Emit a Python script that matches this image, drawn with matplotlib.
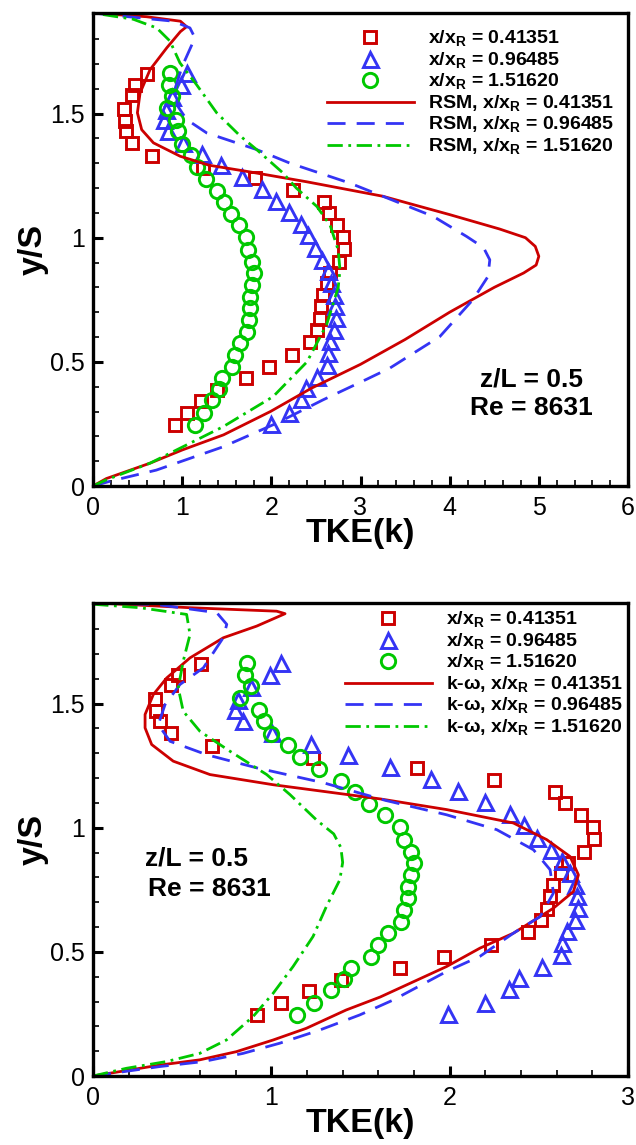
import matplotlib
matplotlib.use("Agg")
import matplotlib.pyplot as plt
import numpy as np

plt.rcParams['font.family'] = ['Liberation Sans', 'DejaVu Sans']
plt.rcParams['mathtext.fontset'] = 'custom'
plt.rcParams['mathtext.rm'] = 'Liberation Sans'
plt.rcParams['mathtext.bf'] = 'Liberation Sans:bold'

# ---------------- experimental data (same in both panels) ----------------
sq_y = [1.661, 1.617, 1.573, 1.519, 1.472, 1.429, 1.382, 1.328, 1.281, 1.241, 1.194,
        1.142, 1.100, 1.052, 1.003, 0.956, 0.904, 0.858, 0.817, 0.770, 0.723, 0.673,
        0.629, 0.578, 0.528, 0.481, 0.434, 0.387, 0.343, 0.293, 0.246]
sq_k = [0.607, 0.475, 0.438, 0.345, 0.356, 0.375, 0.438, 0.666, 1.236, 1.816, 2.247,
        2.588, 2.645, 2.737, 2.805, 2.812, 2.756, 2.663, 2.625, 2.577, 2.562, 2.543,
        2.513, 2.438, 2.232, 1.970, 1.719, 1.389, 1.209, 1.052, 0.921]

tri_y = [1.664, 1.617, 1.565, 1.516, 1.474, 1.430, 1.382, 1.338, 1.291, 1.244, 1.197,
         1.147, 1.103, 1.056, 1.009, 0.960, 0.912, 0.864, 0.817, 0.770, 0.723, 0.676,
         0.629, 0.582, 0.536, 0.488, 0.438, 0.394, 0.349, 0.296, 0.250]
tri_k = [1.052, 0.990, 0.888, 0.815, 0.795, 0.840, 1.004, 1.224, 1.430, 1.668, 1.897,
         2.048, 2.197, 2.337, 2.416, 2.491, 2.570, 2.632, 2.674, 2.700, 2.715, 2.720,
         2.700, 2.657, 2.631, 2.626, 2.515, 2.390, 2.332, 2.197, 1.991]

cir_y = [1.664, 1.617, 1.569, 1.522, 1.476, 1.429, 1.377, 1.332, 1.285, 1.237, 1.190,
         1.143, 1.097, 1.052, 1.004, 0.952, 0.904, 0.858, 0.810, 0.763, 0.716, 0.669,
         0.622, 0.575, 0.528, 0.481, 0.434, 0.390, 0.347, 0.293, 0.246]
cir_k = [0.864, 0.855, 0.887, 0.827, 0.930, 0.957, 1.000, 1.095, 1.161, 1.270, 1.390,
         1.470, 1.550, 1.640, 1.720, 1.742, 1.782, 1.800, 1.782, 1.764, 1.764, 1.745,
         1.727, 1.652, 1.596, 1.557, 1.445, 1.408, 1.333, 1.240, 1.146]

# ---------------- RSM (top panel) ----------------
rsm1_k = [0.0, 0.15, 0.64, 1.0, 1.464, 1.99, 2.45, 3.0, 3.5, 4.0, 4.5, 4.83, 4.97, 5.0,
          4.96, 4.85, 4.56, 4.0, 3.25, 2.4, 1.76, 1.3, 0.978, 0.678, 0.546, 0.498, 0.528,
          0.64, 0.828, 0.98, 1.05, 0.98, 0.6, 0.2, 0.0]
rsm1_y = [0.0, 0.03, 0.092, 0.145, 0.206, 0.30, 0.394, 0.49, 0.59, 0.70, 0.80, 0.858, 0.89,
          0.925, 0.965, 1.0, 1.035, 1.093, 1.167, 1.225, 1.265, 1.292, 1.328, 1.382, 1.435,
          1.503, 1.583, 1.677, 1.765, 1.83, 1.85, 1.872, 1.89, 1.90, 1.905]

rsm2_k = [0.0, 0.2, 0.71, 1.46, 2.06, 2.58, 3.07, 3.33, 3.89, 4.26, 4.43, 4.45, 4.38, 4.19,
          3.815, 3.25, 2.88, 2.21, 1.835, 1.275, 1.05, 0.95, 0.92, 1.0, 1.1, 1.143, 1.087,
          0.9, 0.34, 0.0]
rsm2_y = [0.0, 0.02, 0.064, 0.158, 0.253, 0.347, 0.43, 0.475, 0.602, 0.75, 0.844, 0.911,
          0.96, 1.005, 1.086, 1.167, 1.22, 1.30, 1.355, 1.422, 1.476, 1.53, 1.60, 1.69,
          1.77, 1.805, 1.845, 1.872, 1.892, 1.905]

rsm3_k = [0.0, 0.15, 0.64, 1.46, 2.02, 2.40, 2.62, 2.75, 2.77, 2.75, 2.66, 2.51, 2.28, 2.13,
          1.835, 1.65, 1.387, 1.16, 0.975, 0.863, 0.714, 0.45, 0.0]
rsm3_y = [0.0, 0.025, 0.092, 0.239, 0.36, 0.50, 0.65, 0.80, 0.87, 0.95, 1.05, 1.126, 1.2,
          1.261, 1.355, 1.41, 1.503, 1.617, 1.704, 1.792, 1.845, 1.88, 1.905]

# ---------------- k-omega (bottom panel) ----------------
kw1_k = [0.0, 0.374, 0.598, 0.804, 1.01, 1.196, 1.42, 1.61, 1.983, 2.17, 2.357, 2.582,
         2.694, 2.722, 2.675, 2.544, 2.357, 1.983, 1.61, 1.011, 0.656, 0.45, 0.329, 0.292,
         0.292, 0.338, 0.413, 0.544, 0.731, 0.918, 1.077, 1.03, 0.544, 0.0]
kw1_y = [0.0, 0.044, 0.065, 0.098, 0.145, 0.192, 0.266, 0.318, 0.441, 0.515, 0.575, 0.676,
         0.743, 0.81, 0.884, 0.952, 1.019, 1.073, 1.116, 1.173, 1.214, 1.268, 1.335, 1.402,
         1.456, 1.536, 1.603, 1.684, 1.765, 1.812, 1.862, 1.872, 1.886, 1.906]

kw2_k = [0.0, 0.374, 0.617, 0.841, 1.047, 1.271, 1.496, 1.683, 1.983, 2.17, 2.357, 2.507,
         2.582, 2.563, 2.47, 2.264, 1.983, 1.64, 1.292, 0.918, 0.637, 0.432, 0.366, 0.404,
         0.488, 0.619, 0.73, 0.75, 0.694, 0.357, 0.0]
kw2_y = [0.0, 0.038, 0.058, 0.091, 0.132, 0.185, 0.246, 0.306, 0.421, 0.482, 0.575, 0.642,
         0.737, 0.831, 0.911, 0.992, 1.052, 1.11, 1.181, 1.241, 1.294, 1.348, 1.415, 1.496,
         1.577, 1.644, 1.765, 1.819, 1.866, 1.899, 1.906]

kw3_k = [0.0, 0.187, 0.411, 0.598, 0.748, 0.897, 1.01, 1.122, 1.234, 1.309, 1.384, 1.40,
         1.39, 1.35, 1.255, 1.105, 0.974, 0.768, 0.60, 0.506, 0.478, 0.506, 0.544, 0.525,
         0.264, 0.0]
kw3_y = [0.0, 0.031, 0.058, 0.091, 0.145, 0.239, 0.333, 0.441, 0.562, 0.683, 0.79, 0.86,
         0.92, 0.975, 1.03, 1.133, 1.214, 1.308, 1.388, 1.469, 1.563, 1.671, 1.778, 1.859,
         1.886, 1.90]

exp_labels = [r'x/x$_{\mathbf{R}}$ = 0.41351', r'x/x$_{\mathbf{R}}$ = 0.96485',
              r'x/x$_{\mathbf{R}}$ = 1.51620']
rsm_labels = [r'RSM, x/x$_{\mathbf{R}}$ = 0.41351', r'RSM, x/x$_{\mathbf{R}}$ = 0.96485',
              r'RSM, x/x$_{\mathbf{R}}$ = 1.51620']
kw_labels = [r'k-ω, x/x$_{\mathbf{R}}$ = 0.41351', r'k-ω, x/x$_{\mathbf{R}}$ = 0.96485',
             r'k-ω, x/x$_{\mathbf{R}}$ = 1.51620']
annot = ['z/L = 0.5', 'Re = 8631']

RED = '#CC0000'
BLUE = '#3434F4'
GREEN = '#00C800'

fig = plt.figure(figsize=(6.36, 11.45), dpi=100)
ax1 = fig.add_axes([93/636, 1-486/1145, 535/636, 473/1145])
ax2 = fig.add_axes([93/636, 1-1076/1145, 535/636, 473/1145])

mkw = dict(linestyle='none', markerfacecolor='none', markeredgewidth=2.1)
lw = 2.0
dash = (0, (6.5, 4))
dashdot = (0, (5.5, 2, 1, 2))


def draw(ax, curves, labels, xmax, xminor):
    h = []
    h += ax.plot(sq_k, sq_y, marker='s', ms=9.3, markeredgecolor=RED, label=exp_labels[0], **mkw)
    h += ax.plot(tri_k, tri_y, marker='^', ms=10.8, markeredgecolor=BLUE, label=exp_labels[1], **mkw)
    h += ax.plot(cir_k, cir_y, marker='o', ms=10.3, markeredgecolor=GREEN, label=exp_labels[2], **mkw)
    (k1, y1), (k2, y2), (k3, y3) = curves
    h += ax.plot(k1, y1, color=RED, lw=lw, linestyle='-', label=labels[0])
    h += ax.plot(k2, y2, color=BLUE, lw=lw, linestyle=dash, label=labels[1])
    h += ax.plot(k3, y3, color=GREEN, lw=lw, linestyle=dashdot, label=labels[2])
    ax.set_xlim(0, xmax)
    ax.set_ylim(0, 1.905)
    ax.set_xticks(np.arange(0, xmax + 0.01, 1))
    ax.set_xticks(np.arange(0, xmax + 0.01, xminor), minor=True)
    ax.set_yticks([0, 0.5, 1, 1.5])
    ax.set_yticklabels(['0', '0.5', '1', '1.5'])
    ax.set_yticks(np.arange(0, 1.9, 0.1), minor=True)
    ax.tick_params(which='major', direction='in', length=7, width=2.2, labelsize=18, pad=6)
    ax.tick_params(which='minor', direction='in', length=4, width=1.2)
    ax.tick_params(axis='x', which='major', pad=7)
    for s in ax.spines.values():
        s.set_linewidth(2.4)
    ax.set_xlabel('TKE(k)', fontsize=24.5, fontweight='bold', labelpad=-1)
    ax.set_ylabel('y/S', fontsize=24.5, fontweight='bold', labelpad=1)
    return h


h1 = draw(ax1, [(rsm1_k, rsm1_y), (rsm2_k, rsm2_y), (rsm3_k, rsm3_y)], rsm_labels, 6, 0.2)
h2 = draw(ax2, [(kw1_k, kw1_y), (kw2_k, kw2_y), (kw3_k, kw3_y)], kw_labels, 3, 0.2)

leg_kw = dict(frameon=False, loc='upper left', borderaxespad=0, borderpad=0,
              handlelength=4.45, handletextpad=0.75, labelspacing=0.06, numpoints=1,
              prop={'weight': 'bold', 'size': 14})
ax1.legend(handles=h1, bbox_to_anchor=((327-93)/535, (486-29)/473), **leg_kw)
ax2.legend(handles=h2, bbox_to_anchor=((345-93)/535, (1076-610)/473), **leg_kw)

tkw = dict(fontsize=19, fontweight='bold', va='center')
ax1.text(0.819, (486-379)/473, annot[0], transform=ax1.transAxes, ha='center', **tkw)
ax1.text(0.819, (486-408)/473, annot[1], transform=ax1.transAxes, ha='center', **tkw)
ax2.text(0.098, (1076-858)/473, annot[0], transform=ax2.transAxes, ha='left', **tkw)
ax2.text(0.103, (1076-889)/473, annot[1], transform=ax2.transAxes, ha='left', **tkw)

fig.savefig('out.png', dpi=100)
